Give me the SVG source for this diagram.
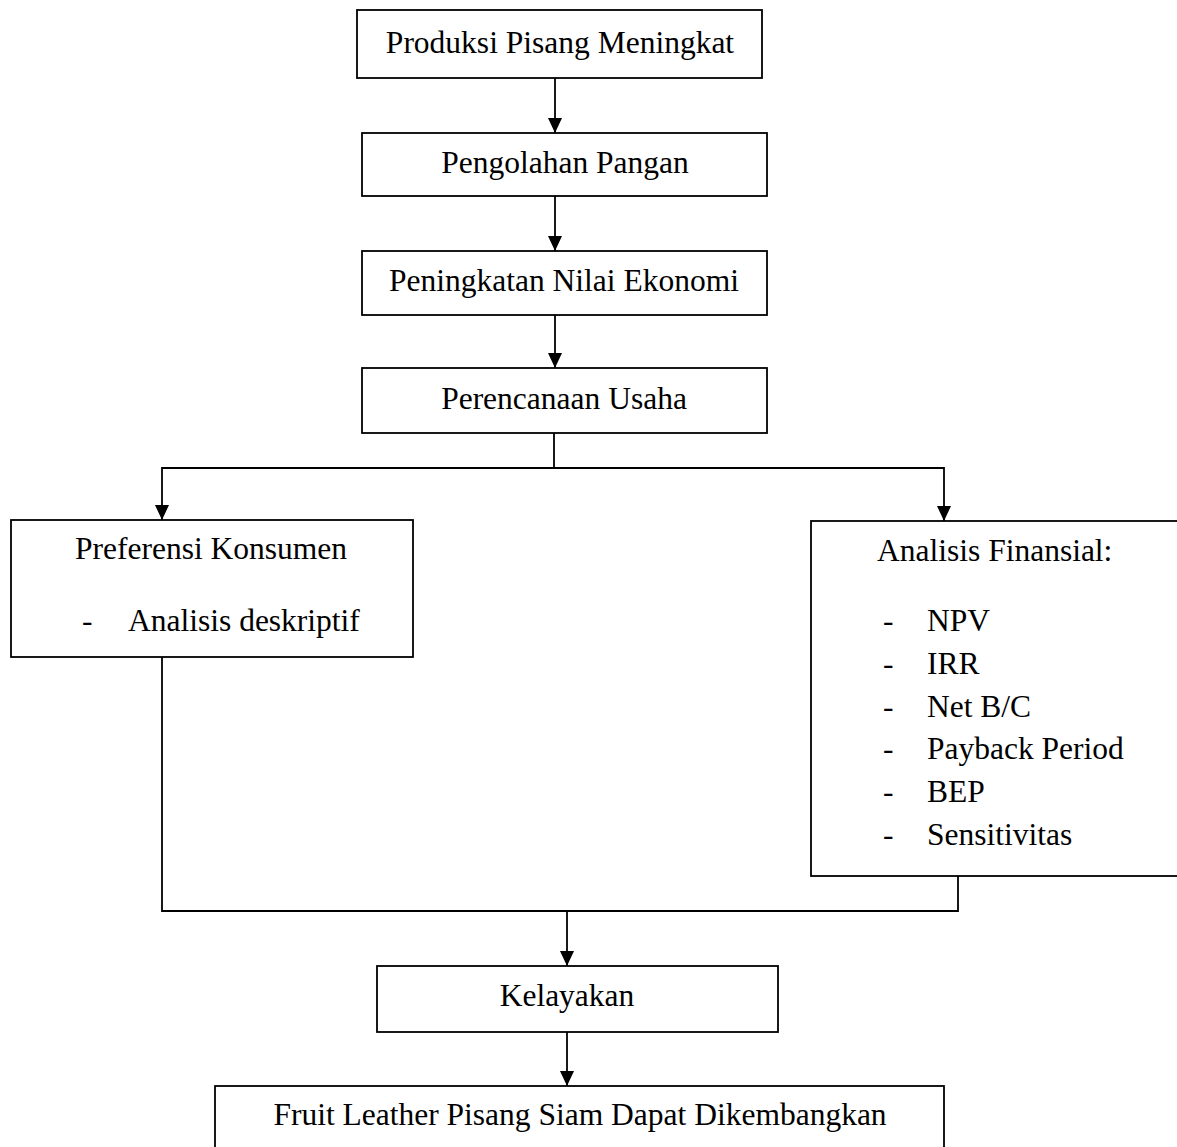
<svg xmlns="http://www.w3.org/2000/svg" width="1177" height="1147" viewBox="0 0 1177 1147">
<style>
.box{fill:#fff;stroke:#000;stroke-width:1.8}
.t{font-family:"Liberation Serif","Times New Roman",serif;font-size:31.5px;fill:#000}
.c{text-anchor:middle}
.ln{fill:none;stroke:#000;stroke-width:1.8}
</style>
<defs>
<marker id="ah" markerUnits="userSpaceOnUse" markerWidth="15" markerHeight="14" viewBox="0 0 15 14" refX="15" refY="7" orient="auto">
<path d="M0,0 L15,7 L0,14 z" fill="#000"/>
</marker>
</defs>
<rect width="1177" height="1147" fill="#fff"/>
<g id="connectors">
<line class="ln" x1="555" y1="78" x2="555" y2="133" marker-end="url(#ah)"/>
<line class="ln" x1="555" y1="196" x2="555" y2="251" marker-end="url(#ah)"/>
<line class="ln" x1="555" y1="315" x2="555" y2="368" marker-end="url(#ah)"/>
<polyline class="ln" points="554,433 554,468 162,468 162,520" marker-end="url(#ah)"/>
<polyline class="ln" points="554,468 944,468 944,521" marker-end="url(#ah)"/>
<polyline class="ln" points="162,657 162,911 958,911 958,876"/>
<line class="ln" x1="567" y1="911" x2="567" y2="966" marker-end="url(#ah)"/>
<line class="ln" x1="567" y1="1032" x2="567" y2="1086" marker-end="url(#ah)"/>
</g>
<g id="n1"><rect class="box" x="357" y="10" width="405" height="68"/><text class="t c" x="560" y="53">Produksi Pisang Meningkat</text></g>
<g id="n2"><rect class="box" x="362" y="133" width="405" height="63"/><text class="t c" x="565" y="173">Pengolahan Pangan</text></g>
<g id="n3"><rect class="box" x="362" y="251" width="405" height="64"/><text class="t c" x="564" y="291">Peningkatan Nilai Ekonomi</text></g>
<g id="n4"><rect class="box" x="362" y="368" width="405" height="65"/><text class="t c" x="564" y="409">Perencanaan Usaha</text></g>
<g id="n5"><rect class="box" x="11" y="520" width="402" height="137"/>
<text class="t c" x="211" y="559">Preferensi Konsumen</text>
<text class="t" x="82" y="631">-</text><text class="t" x="128" y="631">Analisis deskriptif</text></g>
<g id="n6"><rect class="box" x="811" y="521" width="380" height="355"/>
<text class="t" x="877" y="561">Analisis Finansial:</text>
<text class="t" x="883" y="631">-</text><text class="t" x="927" y="631">NPV</text>
<text class="t" x="883" y="674">-</text><text class="t" x="927" y="674">IRR</text>
<text class="t" x="883" y="717">-</text><text class="t" x="927" y="717">Net B/C</text>
<text class="t" x="883" y="759">-</text><text class="t" x="927" y="759">Payback Period</text>
<text class="t" x="883" y="802">-</text><text class="t" x="927" y="802">BEP</text>
<text class="t" x="883" y="845">-</text><text class="t" x="927" y="845">Sensitivitas</text></g>
<g id="n7"><rect class="box" x="377" y="966" width="401" height="66"/><text class="t c" x="567" y="1006">Kelayakan</text></g>
<g id="n8"><rect class="box" x="215" y="1086" width="729" height="80"/><text class="t c" x="580" y="1125">Fruit Leather Pisang Siam Dapat Dikembangkan</text></g>
</svg>
